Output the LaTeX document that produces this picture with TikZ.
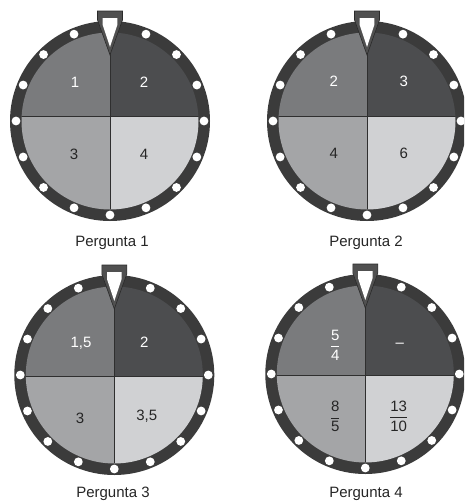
\documentclass[tikz,border=0pt]{standalone}
\usepackage{amsmath}
\usepackage{fontspec}
\setmainfont{Liberation Sans}

\definecolor{ringc}{HTML}{3B3B3B}
\definecolor{qtl}{HTML}{7A7B7D}
\definecolor{qtr}{HTML}{4C4D4F}
\definecolor{qbl}{HTML}{A4A5A7}
\definecolor{qbr}{HTML}{D0D1D3}
\definecolor{linec}{HTML}{2F2F2F}
\definecolor{ptrc}{HTML}{505050}
\definecolor{ptredge}{HTML}{2A2A2A}

\tikzset{
  ring/.style={fill=ringc},
  divline/.style={draw=linec, line width=0.9pt},
  hole/.style={fill=white},
  lbl/.style={font=\fontsize{15}{17}\selectfont, inner sep=0pt, text depth=0pt},
  fraclbl/.style={font=\fontsize{15}{17}\selectfont, inner sep=0pt},
  lightlbl/.style={lbl, text=white},
  darklbl/.style={lbl, text=black!85},
  caption/.style={font=\fontsize{15}{17}\selectfont, anchor=base, inner sep=0pt, text=black!85},
  pointerout/.style={fill=ptrc, draw=ptredge, line width=0.6pt, line join=miter},
  pointerin/.style={fill=white}
}

% spinning wheel: #1,#2 = centre, #3 = vertical offset of the horizontal split
\newcommand\spinwheel[3]{%
  \begin{scope}[shift={(#1,#2)}]
    \fill[ring] (0,0) circle (100pt);
    \begin{scope}
      \clip (0,0) circle (88.5pt);
      \fill[qtl] (-90,-90) rectangle (0,#3);
      \fill[qtr] (0,-90) rectangle (90,#3);
      \fill[qbl] (-90,#3) rectangle (0,90);
      \fill[qbr] (0,#3) rectangle (90,90);
      \draw[divline] (0,-90) -- (0,90) (-90,#3) -- (90,#3);
    \end{scope}
    \foreach \a in {0,22.5,...,337.5} \fill[hole] (\a:94) circle (4.4pt);
    \filldraw[pointerout] (-12.5,-110) -- (12.5,-110) -- (12.5,-101) -- (0,-66) -- (-12.5,-101) -- cycle;
    \fill[pointerin] (-7.3,-103) -- (7.3,-103) -- (7.3,-96) -- (0,-74) -- (-7.3,-96) -- cycle;
  \end{scope}}

% upright fraction set in the text font, with a slightly heavier bar
\newcommand\sfrac[2]{$\genfrac{}{}{1pt}{0}{\text{#1}}{\text{#2}}$}

\begin{document}
\begin{tikzpicture}[x=1pt, y=-1pt]
  \clip (0,0) rectangle (464,504);
  \fill[white] (0,0) rectangle (464,504);

  % Pergunta 1
  \spinwheel{110}{121}{-4.3}
  \node[lightlbl] (p1a) at (75,82) {1};
  \node[lightlbl] (p1b) at (144,82) {2};
  \node[darklbl]  (p1c) at (74,154) {3};
  \node[darklbl]  (p1d) at (144,154) {4};
  \node[caption]  (cap1) at (112,246) {Pergunta 1};

  % Pergunta 2
  \spinwheel{367}{121}{-4.3}
  \node[lightlbl] (p2a) at (333.7,81.7) {2};
  \node[lightlbl] (p2b) at (403.7,81.7) {3};
  \node[darklbl]  (p2c) at (333.7,153.3) {4};
  \node[darklbl]  (p2d) at (403.7,153.3) {6};
  \node[caption]  (cap2) at (366,246) {Pergunta 2};

  % Pergunta 3
  \spinwheel{114.3}{375}{1.7}
  \node[lightlbl] (p3a) at (81,342.7) {1,5};
  \node[lightlbl] (p3b) at (144.3,342.7) {2};
  \node[darklbl]  (p3c) at (80,418.3) {3};
  \node[darklbl]  (p3d) at (146.7,415.7) {3,5};
  \node[caption]  (cap3) at (113,497) {Pergunta 3};

  % Pergunta 4
  \spinwheel{365.3}{374}{1}
  \node[fraclbl, text=white]    (p4a) at (335.3,345) {\sfrac{5}{4}};
  \node[lightlbl]               (p4b) at (399.7,345.7) {–};
  \node[fraclbl, text=black!85] (p4c) at (335.3,416.7) {\sfrac{8}{5}};
  \node[fraclbl, text=black!85] (p4d) at (398.7,416.7) {\sfrac{13}{10}};
  \node[caption]  (cap4) at (366,497) {Pergunta 4};
\end{tikzpicture}
\end{document}
